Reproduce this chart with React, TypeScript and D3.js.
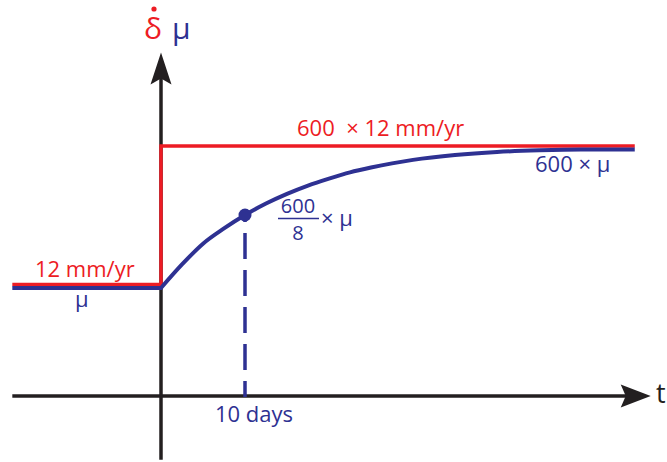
import { useEffect, useRef } from 'react'
import * as d3 from 'd3'

const WIDTH = 667
const HEIGHT = 462

const RED = '#ed1c24'
const BLUE = '#2e3192'
const FONT = '"Open Sans", "DejaVu Sans", sans-serif'

// time in days, level is the normalised response (0 = mu, 1 = 600 x mu)
const timeSpan = [-17.7, 56.4]
const stepTime = 0
const lowLevel = 0
const highLevel = 1
const curveTimes = [0, 2.5, 5, 7.5, 10, 12.5, 15, 17.5, 20, 22.5, 25, 27.5, 30, 35, 40, 45, 50, 56.4]
const curveLevels = [0, 0.17, 0.32, 0.43, 0.527, 0.61, 0.68, 0.74, 0.79, 0.835, 0.87, 0.9, 0.925, 0.96, 0.982, 0.994, 1, 1]
const markTime = 10
const markLevel = 0.527
const xAxisSpan = [-17.7, 58.3]
const yAxisSpan = [-1.24, 1.7]
const axisLevel = -0.78

export default function App() {
    const svgRef = useRef<SVGSVGElement | null>(null)

    useEffect(() => {
        const svg = d3.select(svgRef.current)
            .attr('width', WIDTH)
            .attr('height', HEIGHT)
        svg.selectAll('*').remove()

        const x = d3.scaleLinear().domain([0, 10]).range([161, 245])
        const y = d3.scaleLinear().domain([0, 1]).range([288, 149.5])

        const ax = y(axisLevel)
        const x0 = x(0)

        // axes
        svg.append('line')
            .attr('x1', x(xAxisSpan[0])).attr('x2', x(xAxisSpan[1]) - 20)
            .attr('y1', ax).attr('y2', ax)
            .attr('stroke', '#231f20').attr('stroke-width', 3.5)
        const tipX = x(xAxisSpan[1])
        svg.append('path')
            .attr('d', `M ${tipX} ${ax} L ${tipX - 30} ${ax - 11.5} L ${tipX - 25} ${ax} L ${tipX - 30} ${ax + 11.5} Z`)
            .attr('fill', '#231f20')

        svg.append('line')
            .attr('x1', x0).attr('x2', x0)
            .attr('y1', y(yAxisSpan[0])).attr('y2', y(yAxisSpan[1]) + 20)
            .attr('stroke', '#231f20').attr('stroke-width', 3.5)
        const tipY = y(yAxisSpan[1])
        svg.append('path')
            .attr('d', `M ${x0} ${tipY} L ${x0 - 10.5} ${tipY + 32} L ${x0} ${tipY + 26} L ${x0 + 10.5} ${tipY + 32} Z`)
            .attr('fill', '#231f20')

        // red step (drawn a little above the blue one so both show)
        const stepPts: [number, number][] = [
            [timeSpan[0], lowLevel], [stepTime, lowLevel], [stepTime, highLevel], [timeSpan[1], highLevel],
        ]
        const redLine = d3.line<[number, number]>()
            .x(d => x(d[0]))
            .y(d => y(d[1]) - 3.5)
        svg.append('path')
            .attr('d', redLine(stepPts))
            .attr('fill', 'none')
            .attr('stroke', RED)
            .attr('stroke-width', 3.5)

        // blue response: flat part, then the curve from the step
        const flatPts: [number, number][] = [[timeSpan[0], lowLevel], [stepTime, lowLevel]]
        const curvePts: [number, number][] = curveTimes.map((t, i) => [t, curveLevels[i]])
        const blueLine = d3.line<[number, number]>().x(d => x(d[0])).y(d => y(d[1]))
        svg.append('path')
            .attr('d', blueLine(flatPts) + (blueLine.curve(d3.curveMonotoneX)(curvePts) || '').replace(/^M/, 'L'))
            .attr('fill', 'none')
            .attr('stroke', BLUE)
            .attr('stroke-width', 4)
            .attr('stroke-linejoin', 'miter')

        // dashed marker at 10 days
        svg.append('line')
            .attr('x1', x(markTime)).attr('x2', x(markTime))
            .attr('y1', y(markLevel)).attr('y2', ax + 1)
            .attr('stroke', BLUE).attr('stroke-width', 3.5)
            .attr('stroke-dasharray', '26 11')
            .attr('stroke-dashoffset', 19)
        svg.append('circle')
            .attr('cx', x(markTime)).attr('cy', y(markLevel))
            .attr('r', 6.5).attr('fill', BLUE)

        const label = (txt: string, tx: number, ty: number, color: string, size = 22, anchor = 'start') =>
            svg.append('text')
                .attr('x', tx).attr('y', ty)
                .attr('fill', color)
                .attr('font-family', FONT)
                .attr('font-size', size)
                .attr('text-anchor', anchor)
                .text(txt)

        label('12 mm/yr', 35, 277, RED)
        label('μ', 75, 307, BLUE)
        label('600\u00a0\u00a0× 12 mm/yr', 297, 136, RED)
        label('600 × μ', 535, 172, BLUE)
        label('10 days', 215, 422, BLUE)
        label('t', 656, 403, '#231f20', 27)

        // fraction 600/8 x mu
        label('600', 298, 213, BLUE, 20, 'middle')
        svg.append('line')
            .attr('x1', 278).attr('x2', 319)
            .attr('y1', 218.5).attr('y2', 218.5)
            .attr('stroke', BLUE).attr('stroke-width', 1.5)
        label('8', 298, 240, BLUE, 20, 'middle')
        label('× μ', 321, 226, BLUE)

        // y axis title: delta with a dot above, then mu
        label('δ', 144, 39, RED, 30)
        svg.append('circle')
            .attr('cx', 154).attr('cy', 9)
            .attr('r', 2.6).attr('fill', RED)
        label('μ', 172, 39, BLUE, 30)
    }, [])

    return <svg ref={svgRef} style={{ position: 'absolute', left: 0, top: 0 }}></svg>
}
